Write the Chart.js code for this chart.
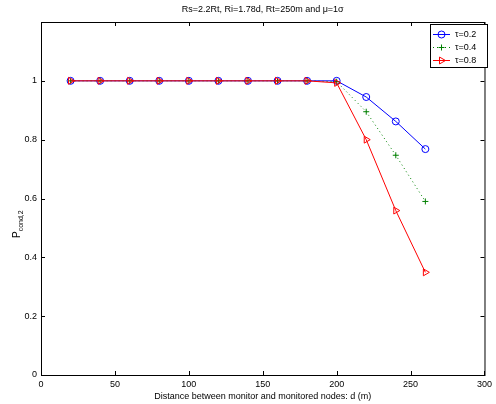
<!DOCTYPE html>
<html>
<head>
<meta charset="utf-8">
<script src="https://cdn.jsdelivr.net/npm/chart.js@4/dist/chart.umd.min.js"></script>
<style>
  html, body { margin: 0; padding: 0; background: #fff; }
  #wrap { width: 496px; height: 404px; }
</style>
</head>
<body>
<div id="wrap"><canvas id="lineChart"></canvas></div>
<script>
var distances = [20, 40, 60, 80, 100, 120, 140, 160, 180, 200, 220, 240, 260];
var tau02 = [1, 1, 1, 1, 1, 1, 1, 1, 1, 1.0, 0.945, 0.862, 0.768];
var tau04 = [1, 1, 1, 1, 1, 1, 1, 1, 1, 0.997, 0.895, 0.747, 0.59];
var tau08 = [1, 1, 1, 1, 1, 1, 1, 1, 1, 0.993, 0.80, 0.559, 0.349];
var seriesLabels = ['τ=0.2', 'τ=0.4', 'τ=0.8'];
var xTicks = [0, 50, 100, 150, 200, 250, 300];
var yTicks = [0, 0.2, 0.4, 0.6, 0.8, 1];
var titleText = 'Rs=2.2Rt, Ri=1.78d, Rt=250m and \u03bc=1\u03c3';
var xTitle = 'Distance between monitor and monitored nodes: d (m)';

var FONT = '"Liberation Sans", Arial, sans-serif';

function toPoints(values) {
  return distances.map(function (d, i) { return { x: d, y: values[i] }; });
}

// matlab-like box, inward ticks, title, y label and legend
var matlabFrame = {
  id: 'matlabFrame',
  beforeDatasetsDraw: function (chart) {
    var ctx = chart.ctx, a = chart.chartArea;
    var xs = chart.scales.x, ys = chart.scales.y;
    ctx.save();
    ctx.strokeStyle = '#000';
    ctx.lineWidth = 1;
    ctx.strokeRect(a.left + 0.5, a.top + 0.5, a.right - a.left, a.bottom - a.top);
    ctx.beginPath();
    xTicks.forEach(function (t) {
      var px = Math.round(xs.getPixelForValue(t)) + 0.5;
      ctx.moveTo(px, a.bottom); ctx.lineTo(px, a.bottom - 4);
      ctx.moveTo(px, a.top); ctx.lineTo(px, a.top + 4);
    });
    yTicks.forEach(function (t) {
      var py = Math.round(ys.getPixelForValue(t)) + 0.5;
      ctx.moveTo(a.left, py); ctx.lineTo(a.left + 4, py);
      ctx.moveTo(a.right, py); ctx.lineTo(a.right - 4, py);
    });
    ctx.stroke();
    ctx.restore();
  },
  afterDraw: function (chart) {
    var ctx = chart.ctx, a = chart.chartArea;
    ctx.save();
    ctx.fillStyle = '#000';
    ctx.font = '9px ' + FONT;
    ctx.textAlign = 'center';
    ctx.textBaseline = 'middle';
    ctx.fillText(titleText, (a.left + a.right) / 2, 10);

    // y label P_cond,2
    ctx.translate(19.5, 238);
    ctx.rotate(-Math.PI / 2);
    ctx.textAlign = 'left';
    ctx.textBaseline = 'alphabetic';
    ctx.font = '10px ' + FONT;
    ctx.fillText('P', 0, 0);
    var pw = ctx.measureText('P').width;
    ctx.font = '7px ' + FONT;
    ctx.fillText('cond,2', pw, 3.5);
    ctx.restore();

    // legend
    var lx = 430, ly = 24, lw = 57, lh = 43;
    ctx.save();
    ctx.fillStyle = '#fff';
    ctx.fillRect(lx, ly, lw, lh);
    ctx.strokeStyle = '#000';
    ctx.lineWidth = 1;
    ctx.strokeRect(lx + 0.5, ly + 0.5, lw, lh);
    chart.data.datasets.forEach(function (ds, i) {
      var ry = ly + 10.5 + i * 13;
      ctx.strokeStyle = ds.borderColor;
      ctx.lineWidth = 1;
      ctx.setLineDash(ds.borderDash || []);
      ctx.beginPath();
      ctx.moveTo(lx + 3, ry); ctx.lineTo(lx + 20, ry);
      ctx.stroke();
      ctx.setLineDash([]);
      ctx.fillStyle = 'rgba(0,0,0,0)';
      ctx.strokeStyle = ds.borderColor;
      Chart.helpers.drawPoint(ctx, {
        pointStyle: ds.pointStyle, rotation: ds.pointRotation || 0,
        radius: ds.pointRadius, borderWidth: 1
      }, lx + 11.5, ry);
      ctx.fillStyle = '#000';
      ctx.font = '9px ' + FONT;
      ctx.textAlign = 'left';
      ctx.textBaseline = 'middle';
      ctx.fillText(ds.label, lx + 25, ry);
    });
    ctx.restore();
  }
};

var ctx = document.getElementById('lineChart').getContext('2d');
var lineChart = new Chart(ctx, {
  type: 'scatter',
  data: {
    datasets: [
      {
        label: seriesLabels[0], data: toPoints(tau02), showLine: true, order: 2,
        borderColor: '#0000ff', backgroundColor: 'rgba(0,0,0,0)', borderWidth: 1,
        pointStyle: 'circle', pointRadius: 3.5, pointBorderWidth: 1
      },
      {
        label: seriesLabels[1], data: toPoints(tau04), showLine: true, order: 1,
        borderColor: '#008000', backgroundColor: 'rgba(0,0,0,0)', borderWidth: 1,
        borderDash: [1, 3], pointStyle: 'cross', pointRadius: 3, pointBorderWidth: 1
      },
      {
        label: seriesLabels[2], data: toPoints(tau08), showLine: true, order: 0,
        borderColor: '#ff0000', backgroundColor: 'rgba(0,0,0,0)', borderWidth: 1,
        pointStyle: 'triangle', pointRotation: 90, pointRadius: 4, pointBorderWidth: 1
      }
    ]
  },
  options: {
    responsive: true,
    maintainAspectRatio: false,
    animation: false,
    layout: { padding: { top: 22, right: 8, left: 0, bottom: 0 } },
    plugins: { legend: { display: false }, tooltip: { enabled: false } },
    scales: {
      x: {
        type: 'linear', min: 0, max: 300,
        afterBuildTicks: function (s) { s.ticks = xTicks.map(function (v) { return { value: v }; }); },
        afterFit: function (s) { s.height = 29; },
        grid: { display: false, drawTicks: false },
        border: { display: false },
        ticks: { color: '#000', font: { family: FONT, size: 9 }, padding: 4, maxRotation: 0,
          callback: function (v) { return String(v); } },
        title: { display: true, text: xTitle, color: '#000', font: { family: FONT, size: 9 }, padding: { top: 0, bottom: 2 } }
      },
      y: {
        type: 'linear', min: 0, max: 1.2,
        afterBuildTicks: function (s) { s.ticks = yTicks.map(function (v) { return { value: v }; }); },
        afterFit: function (s) { s.width = 41; },
        grid: { display: false, drawTicks: false },
        border: { display: false },
        ticks: { color: '#000', font: { family: FONT, size: 9 }, padding: 4,
          callback: function (v) { return String(v); } }
      }
    }
  },
  plugins: [matlabFrame]
});
</script>
</body>
</html>
